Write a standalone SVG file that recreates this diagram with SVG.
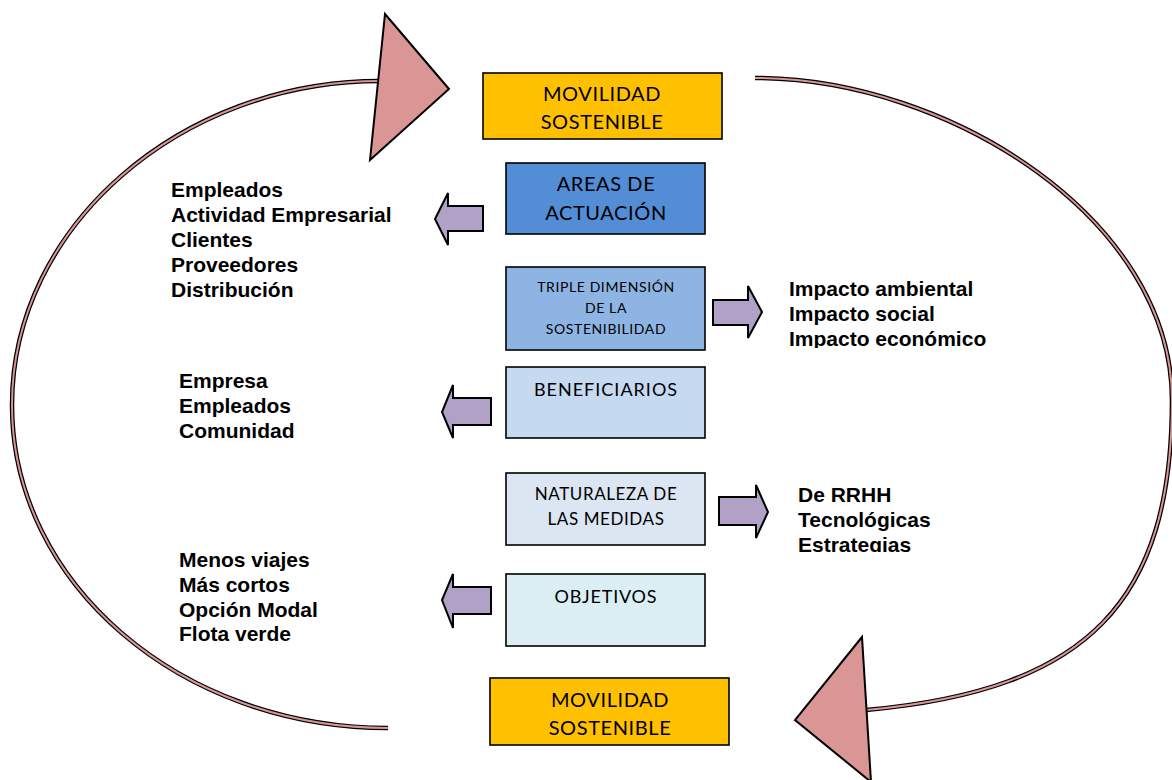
<svg xmlns="http://www.w3.org/2000/svg" width="1172" height="780" viewBox="0 0 1172 780">
<style>
.box{stroke:#000;stroke-width:1.6}
.bt{font-family:Lato,"Liberation Sans",sans-serif;fill:#000;text-anchor:middle}
.big{font-size:20px;letter-spacing:0.6px}
.lst{font-family:"Liberation Sans",Arial,sans-serif;font-weight:bold;font-size:21px;fill:#000}
.pa{fill:#B2A1C7;stroke:#000;stroke-width:2;stroke-linejoin:miter}
.band-o{fill:none;stroke:#000;stroke-width:4.5}
.band-i{fill:none;stroke:#D99694;stroke-width:2}
.head{fill:#D99694;stroke:#000;stroke-width:2;stroke-linejoin:miter}
</style>
<defs>
<clipPath id="c1"><rect x="780" y="270" width="260" height="78"/></clipPath>
<clipPath id="c2"><rect x="780" y="480" width="200" height="72"/></clipPath>
</defs>
<rect width="1172" height="780" fill="#fff"/>
<g id="connectors">
<path class="band-o" d="M380,81 C181,81 12,226 12,405 C12,584 181,728 388,728"/>
<path class="band-i" d="M380,81 C181,81 12,226 12,405 C12,584 181,728 388,728"/>
<path class="band-o" d="M755,78 C950,78 1172,220 1172,400 C1172,600 1090,690 866,710"/>
<path class="band-i" d="M755,78 C950,78 1172,220 1172,400 C1172,600 1090,690 866,710"/>
<polygon class="head" points="385,14 449,89 370,160"/>
<polygon class="head" points="862,637 795,720 871,782"/>
<polygon class="pa" points="483,206 448,206 448,193 435,219 448,245 448,231 483,231"/>
<polygon class="pa" points="713,300 748,300 748,286 762,312 748,338 748,325 713,325"/>
<polygon class="pa" points="491,398 453,398 453,385 442,412 453,438 453,425 491,425"/>
<polygon class="pa" points="719,497 756,497 756,485 768,512 756,538 756,525 719,525"/>
<polygon class="pa" points="491,587 453,587 453,574 442,600 453,628 453,614 491,614"/>
</g>
<g id="movilidad-top">
<rect class="box" x="483" y="73" width="239" height="66" fill="#FFC000"/>
<text class="bt big" x="602" y="101">MOVILIDAD</text>
<text class="bt big" x="602" y="129">SOSTENIBLE</text>
</g>
<g id="areas">
<rect class="box" x="506" y="163" width="199" height="71" fill="#538DD5"/>
<text class="bt big" x="606" y="191">AREAS DE</text>
<text class="bt big" x="606" y="220">ACTUACIÓN</text>
</g>
<g id="triple">
<rect class="box" x="506" y="267" width="199" height="83" fill="#8DB4E2"/>
<text class="bt" x="606" y="292" font-size="14" letter-spacing="0.6">TRIPLE DIMENSIÓN</text>
<text class="bt" x="606" y="313" font-size="14" letter-spacing="0.6">DE LA</text>
<text class="bt" x="606" y="334" font-size="14" letter-spacing="0.6">SOSTENIBILIDAD</text>
</g>
<g id="beneficiarios">
<rect class="box" x="506" y="367" width="199" height="71" fill="#C5D9F1"/>
<text class="bt" x="606" y="396" font-size="18" letter-spacing="1">BENEFICIARIOS</text>
</g>
<g id="naturaleza">
<rect class="box" x="506" y="473" width="199" height="72" fill="#DCE6F2"/>
<text class="bt" x="606" y="500" font-size="17" letter-spacing="0.6">NATURALEZA DE</text>
<text class="bt" x="606" y="525" font-size="17" letter-spacing="0.6">LAS MEDIDAS</text>
</g>
<g id="objetivos">
<rect class="box" x="506" y="574" width="199" height="72" fill="#DAEEF3"/>
<text class="bt" x="606" y="603" font-size="18" letter-spacing="0.8">OBJETIVOS</text>
</g>
<g id="movilidad-bottom">
<rect class="box" x="490" y="678" width="239" height="67" fill="#FFC000"/>
<text class="bt big" x="610" y="707">MOVILIDAD</text>
<text class="bt big" x="610" y="735">SOSTENIBLE</text>
</g>
<g id="list-areas">
<text class="lst" x="171" y="197">Empleados</text>
<text class="lst" x="171" y="222">Actividad Empresarial</text>
<text class="lst" x="171" y="247">Clientes</text>
<text class="lst" x="171" y="272">Proveedores</text>
<text class="lst" x="171" y="297">Distribución</text>
</g>
<g id="list-triple" clip-path="url(#c1)">
<text class="lst" x="789" y="296">Impacto ambiental</text>
<text class="lst" x="789" y="321">Impacto social</text>
<text class="lst" x="789" y="346">Impacto económico</text>
</g>
<g id="list-beneficiarios">
<text class="lst" x="179" y="388">Empresa</text>
<text class="lst" x="179" y="413">Empleados</text>
<text class="lst" x="179" y="438">Comunidad</text>
</g>
<g id="list-naturaleza" clip-path="url(#c2)">
<text class="lst" x="798" y="502">De RRHH</text>
<text class="lst" x="798" y="527">Tecnológicas</text>
<text class="lst" x="798" y="552">Estrategias</text>
</g>
<g id="list-objetivos">
<text class="lst" x="179" y="567">Menos viajes</text>
<text class="lst" x="179" y="592">Más cortos</text>
<text class="lst" x="179" y="617">Opción Modal</text>
<text class="lst" x="179" y="641">Flota verde</text>
</g>
</svg>
